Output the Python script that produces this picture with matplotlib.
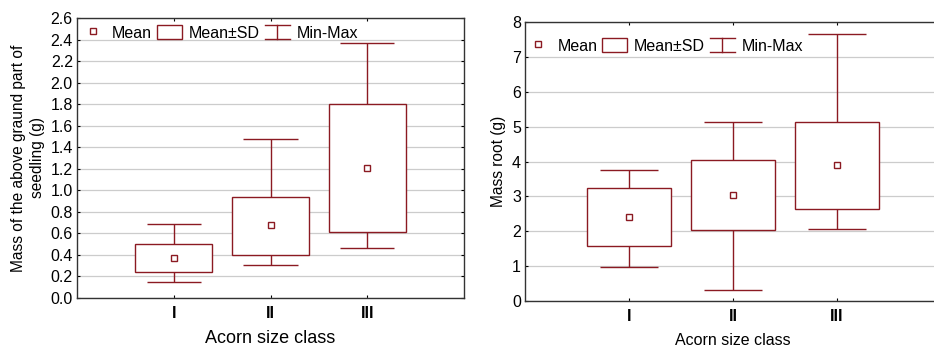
import matplotlib
matplotlib.use("Agg")
import matplotlib.pyplot as plt
from matplotlib.patches import Rectangle
from matplotlib.lines import Line2D
from matplotlib.legend_handler import HandlerBase

plt.rcParams['font.family'] = ['Liberation Sans', 'DejaVu Sans']

# data
classes = ['I', 'II', 'III']

shoot_min = [0.15, 0.31, 0.46]
shoot_sd_low = [0.24, 0.40, 0.61]
shoot_mean = [0.37, 0.68, 1.21]
shoot_sd_high = [0.50, 0.94, 1.80]
shoot_max = [0.69, 1.48, 2.37]

root_min = [0.97, 0.32, 2.06]
root_sd_low = [1.58, 2.05, 2.65]
root_mean = [2.42, 3.05, 3.90]
root_sd_high = [3.23, 4.03, 5.12]
root_max = [3.77, 5.13, 7.67]

RED = '#8b1a22'


class MinMaxKey:
    pass


class MinMaxHandler(HandlerBase):
    # draws the "I" shaped whisker symbol in the legend
    def create_artists(self, legend, orig_handle, xdescent, ydescent,
                       width, height, fontsize, trans):
        x0, x1 = -xdescent, -xdescent + width
        y0, y1 = -ydescent, -ydescent + height
        cx = (x0 + x1) / 2
        kw = dict(color=RED, lw=1.0, transform=trans)
        return [Line2D([cx, cx], [y0, y1], **kw),
                Line2D([x0, x1], [y0, y0], **kw),
                Line2D([x0, x1], [y1, y1], **kw)]


def draw_panel(ax, mins, lows, means, highs, maxs, ylim, yticks, ylabel,
               xlabel_size, legend_anchor):
    xs = [1, 2, 3]
    box_w = 0.8
    cap_w = 0.56
    for x, mn, lo, me, hi, mx in zip(xs, mins, lows, means, highs, maxs):
        ax.vlines(x, mn, lo, color=RED, lw=1.0, zorder=3)
        ax.vlines(x, hi, mx, color=RED, lw=1.0, zorder=3)
        ax.hlines([mn, mx], x - cap_w / 2, x + cap_w / 2, color=RED, lw=1.0, zorder=3)
        ax.add_patch(Rectangle((x - box_w / 2, lo), box_w, hi - lo,
                               facecolor='white', edgecolor=RED, lw=1.0, zorder=3))
    ax.plot(xs, means, ls='none', marker='s', ms=5, mfc='white', mec=RED,
            mew=1.0, zorder=4)

    ax.set_xlim(0, 4)
    ax.set_ylim(*ylim)
    ax.set_yticks(yticks)
    ax.set_xticks(xs)
    ax.set_xticklabels(classes, fontweight='bold')
    ax.yaxis.grid(True, color='#cccccc', lw=0.9)
    ax.set_axisbelow(True)
    ax.tick_params(direction='in', length=2.5, top=True, right=True,
                   labelsize=11.5, pad=3)
    ax.tick_params(axis='x', pad=6)
    for sp in ax.spines.values():
        sp.set_color('#333333')
        sp.set_linewidth(1.0)
    ax.set_xlabel('Acorn size class', fontsize=xlabel_size, labelpad=6)
    ax.set_ylabel(ylabel, fontsize=11.2, labelpad=4, linespacing=1.35)

    h_mean = Line2D([], [], ls='none', marker='s', ms=5, mfc='white', mec=RED, mew=1.0)
    h_sd = Rectangle((0, 0), 1, 1, facecolor='white', edgecolor=RED, lw=1.0)
    ax.legend([h_mean, h_sd, MinMaxKey()], ['Mean', 'Mean\u00b1SD', 'Min-Max'],
              handler_map={MinMaxKey: MinMaxHandler()},
              ncol=3, frameon=False, loc='upper left', bbox_to_anchor=legend_anchor,
              fontsize=11.5, handlelength=1.55, handleheight=1.0,
              handletextpad=0.45, columnspacing=0.3, borderaxespad=0)


fig = plt.figure(figsize=(9.34, 3.46), dpi=100)
ax1 = fig.add_axes([77 / 934, 48 / 346, 387 / 934, 280 / 346])
ax2 = fig.add_axes([525 / 934, 45 / 346, 416 / 934, 279 / 346])

draw_panel(ax1, shoot_min, shoot_sd_low, shoot_mean, shoot_sd_high, shoot_max,
           (0, 2.6), [i / 10 for i in range(0, 27, 2)],
           'Mass of the above graund part of\nseedling (g)', 13, (-0.008, 0.998))
ax1.set_yticklabels([f'{i / 10:.1f}' for i in range(0, 27, 2)])

draw_panel(ax2, root_min, root_sd_low, root_mean, root_sd_high, root_max,
           (0, 8), range(0, 9), 'Mass root (g)', 11.5, (-0.014, 0.965))

fig.savefig('out.png', dpi=100)
